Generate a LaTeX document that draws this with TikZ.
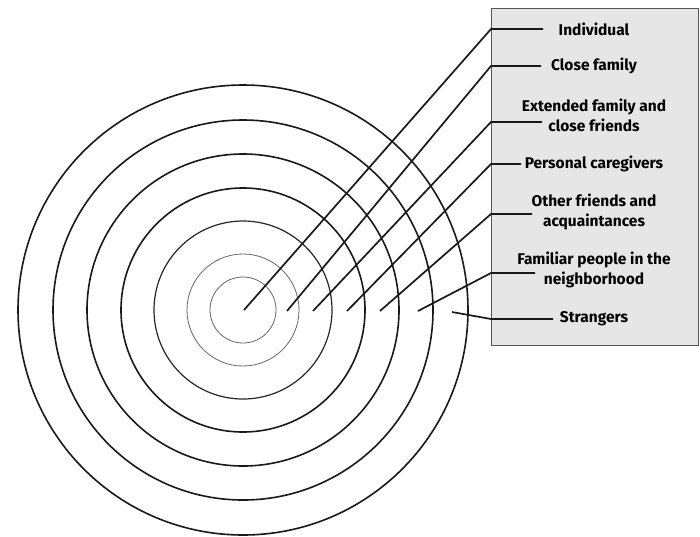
\documentclass[tikz,border=0pt]{standalone}
\usepackage{fontspec}
\setmainfont{Fira Sans}
\usepackage{xcolor}
\usepackage{tikz}
\usetikzlibrary{positioning}

\definecolor{boxgray}{HTML}{E6E6E6}
\definecolor{framegray}{HTML}{555555}

\tikzset{
	ring/.style={draw=black!90,line width=1.6pt},
	thinring/.style={draw=black!60,line width=0.8pt},
	leader/.style={draw=black!90,line width=1.7pt},
	lbl/.style={font=\fontsize{15.5}{20}\selectfont\bfseries,align=center,inner sep=0pt}
}

\begin{document}
\begin{tikzpicture}[x=1pt,y=-1pt]
		\useasboundingbox (0,0) rectangle (700,536);
		% legend box
		\node[draw=framegray,fill=boxgray,line width=0.9pt,minimum width=207pt,minimum height=337pt,inner sep=0pt] (legend) at (594.5,176.5) {};
		% labels
		\node[lbl] (l1) at (594,29) {Individual};
		\node[lbl] (l2) at (594,66) {Close family};
		\node[lbl] (l3) at (594,115) {Extended family and\\close friends};
		\node[lbl] (l4) at (594,164) {Personal caregivers};
		\node[lbl] (l5) at (594,212) {Other friends and\\acquaintances};
		\node[lbl] (l6) at (594,270) {Familiar people in the\\neighborhood};
		\node[lbl] (l7) at (594,319) {Strangers};
		% elbows on the box edge
		\coordinate (e1) at (491,29);
		\coordinate (e2) at (491,66);
		\coordinate (e3) at (491,122);
		\coordinate (e4) at (491,164);
		\coordinate (e5) at (491,214);
		\coordinate (e6) at (491,273);
		\coordinate (e7) at (491,319);
		% where the short horizontals stop
		\coordinate (h1) at (543,29);
		\coordinate (h2) at (541,66);
		\coordinate (h3) at (542,122);
		\coordinate (h4) at (521,164);
		\coordinate (h5) at (532,214);
		\coordinate (h6) at (535,273);
		\coordinate (h7) at (553,319);
		% tips inside the rings
		\coordinate (t1) at (244,310);
		\coordinate (t2) at (287,311);
		\coordinate (t3) at (313,311);
		\coordinate (t4) at (347,311);
		\coordinate (t5) at (380,311);
		\coordinate (t6) at (418,311);
		\coordinate (t7) at (452,312);
		%
		\coordinate (O) at (243,310);
		% circles
		\foreach \r in {225,190,156,122}
			\path[ring] (O) circle[radius=\r pt];
		\path[draw=black!85,line width=1.2pt] (O) circle[radius=89pt];
		\foreach \r in {56,33}
			\path[thinring] (O) circle[radius=\r pt];
		% leaders
		\foreach \i in {1,...,7}
			\path[leader] (t\i) -- (e\i) -- (h\i);
	\end{tikzpicture}
\end{document}
